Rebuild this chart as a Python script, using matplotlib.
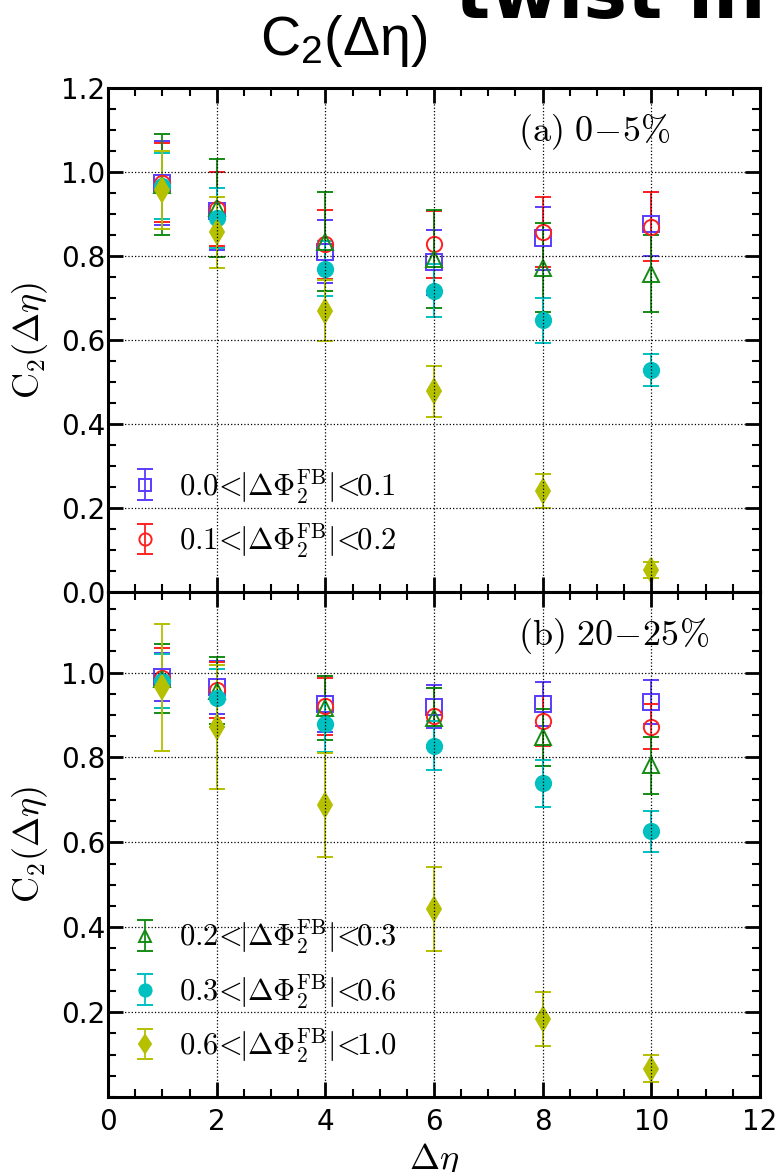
import matplotlib.pyplot as plt
from matplotlib.ticker import MultipleLocator

plt.rcParams['mathtext.fontset'] = 'cm'
plt.rcParams['axes.axisbelow'] = False

# pseudorapidity gaps
deta = [1, 2, 4, 6, 8, 10]

# (a) 0-5% centrality
a_b = [0.975, 0.907, 0.810, 0.785, 0.842, 0.876]
a_b_err = [0.100, 0.092, 0.075, 0.077, 0.075, 0.077]
a_r = [0.975, 0.912, 0.828, 0.828, 0.858, 0.870]
a_r_err = [0.093, 0.088, 0.082, 0.080, 0.083, 0.083]
a_g = [0.970, 0.915, 0.834, 0.793, 0.772, 0.758]
a_g_err = [0.120, 0.117, 0.118, 0.117, 0.106, 0.092]
a_c = [0.967, 0.891, 0.770, 0.717, 0.647, 0.529]
a_c_err = [0.079, 0.072, 0.065, 0.063, 0.054, 0.038]
a_y = [0.957, 0.856, 0.670, 0.478, 0.241, 0.052]
a_y_err = [0.093, 0.085, 0.073, 0.061, 0.040, 0.019]

# (b) 20-25% centrality
b_b = [0.990, 0.965, 0.926, 0.920, 0.926, 0.931]
b_b_err = [0.056, 0.062, 0.065, 0.050, 0.051, 0.052]
b_r = [0.987, 0.959, 0.921, 0.897, 0.887, 0.873]
b_r_err = [0.070, 0.067, 0.067, 0.067, 0.059, 0.054]
b_g = [0.986, 0.957, 0.917, 0.893, 0.848, 0.782]
b_g_err = [0.082, 0.079, 0.075, 0.070, 0.067, 0.067]
b_c = [0.980, 0.940, 0.879, 0.828, 0.739, 0.626]
b_c_err = [0.064, 0.068, 0.066, 0.058, 0.055, 0.049]
b_y = [0.965, 0.872, 0.688, 0.443, 0.184, 0.067]
b_y_err = [0.150, 0.147, 0.122, 0.098, 0.063, 0.032]

bins = ['0.0', '0.1', '0.2', '0.3', '0.6', '1.0']
labels = [r'$%s\!<\!\!|\Delta\Phi_2^{\rm FB}|\!<\!\!%s$' % (bins[i], bins[i + 1])
          for i in range(5)]

# marker, colour, filled
styles = [
    ('s', '#5a3cff', False),
    ('o', '#ff2020', False),
    ('^', '#148c14', False),
    ('o', '#00c0c0', True),
    ('d', '#b4c000', True),
]

fig = plt.figure(figsize=(7.81, 11.72), dpi=100)
ax1 = fig.add_axes([0.1383, 0.4949, 0.8348, 0.4300])
ax2 = fig.add_axes([0.1383, 0.0640, 0.8348, 0.4309], sharex=ax1)


def draw_panel(ax, series):
    handles = []
    for (vals, errs), (mk, col, filled), lab in zip(series, styles, labels):
        h = ax.errorbar(deta, vals, yerr=errs, fmt=mk, color=col, ecolor=col,
                        mfc=col if filled else 'none', mec=col,
                        ms=12 if mk == 'd' else 11, mew=1.4,
                        elinewidth=1.3, capsize=5.5, capthick=1.3, label=lab)
        handles.append(h)
    ax.set_xlim(0, 12)
    ax.xaxis.set_major_locator(MultipleLocator(2))
    ax.xaxis.set_minor_locator(MultipleLocator(0.5))
    ax.yaxis.set_minor_locator(MultipleLocator(0.05))
    ax.tick_params(which='both', direction='in', top=True, right=True,
                   labelsize=20)
    ax.tick_params(which='major', length=11, width=2)
    ax.tick_params(which='minor', length=5.5, width=1.5)
    ax.tick_params(axis='y', pad=2)
    ax.tick_params(axis='x', pad=8)
    for sp in ax.spines.values():
        sp.set_linewidth(2.2)
    ax.grid(True, which='major', linestyle=':', color='k', linewidth=0.9)
    ax.set_ylabel(r'$\mathrm{C}_2(\Delta\eta)$', fontsize=26)
    ax.yaxis.set_label_coords(-0.089, 0.5)
    return handles


h1 = draw_panel(ax1, [(a_b, a_b_err), (a_r, a_r_err), (a_g, a_g_err),
                      (a_c, a_c_err), (a_y, a_y_err)])
h2 = draw_panel(ax2, [(b_b, b_b_err), (b_r, b_r_err), (b_g, b_g_err),
                      (b_c, b_c_err), (b_y, b_y_err)])

ax1.set_ylim(0, 1.2)
ax1.set_yticks([0.0, 0.2, 0.4, 0.6, 0.8, 1.0, 1.2])
ax1.tick_params(axis='x', labelbottom=False)
ax2.set_ylim(0, 1.19)
ax2.set_yticks([0.2, 0.4, 0.6, 0.8, 1.0])
ax2.set_xlabel(r'$\Delta\eta$', fontsize=26)
ax2.xaxis.set_label_coords(0.5, -0.088)

ax1.text(0.629, 0.913, r'$\rm (a)\ 0\!-\!5\%$', transform=ax1.transAxes,
         fontsize=26, ha='left', va='center')
ax2.text(0.629, 0.913, r'$\rm (b)\ 20\!-\!25\%$', transform=ax2.transAxes,
         fontsize=26, ha='left', va='center')

leg_kw = dict(loc='lower left', frameon=False, fontsize=22, markerscale=0.8,
              handlelength=0.8, handletextpad=0.7, labelspacing=0.5,
              borderaxespad=0.0)
ax1.legend(handles=h1[:2], bbox_to_anchor=(0.02, 0.04), **leg_kw)
ax2.legend(handles=h2[2:], bbox_to_anchor=(0.02, 0.04), **leg_kw)

# slide heading above the plot, partly off the top edge
fig.text(260 / 781, 1 - 55 / 1172, r'$\mathregular{C_2(\Delta\eta)}$',
         family='Liberation Sans', fontsize=40, ha='left', va='baseline')
fig.text(455 / 781, 1 - 18 / 1172, 'twist in', family='DejaVu Sans',
         fontweight='bold', fontsize=53, ha='left', va='baseline')

fig.savefig('out.png', dpi=100)
